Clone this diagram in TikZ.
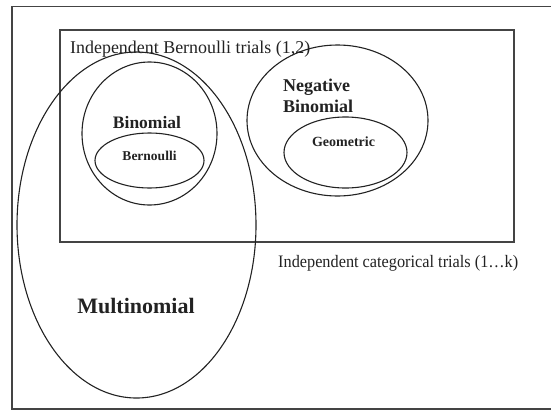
\documentclass[tikz,border=0pt]{standalone}
\usepackage{fontspec}
\setmainfont{Liberation Serif}
\usetikzlibrary{shapes.geometric}
\definecolor{ink}{HTML}{222222}
\definecolor{frame}{HTML}{444444}
\tikzset{
  oval/.style={ellipse, draw=ink, line width=1.1pt, inner sep=0pt, outer sep=0pt},
  lbl/.style={inner sep=0pt, text=ink},
}
\newcommand{\fs}[1]{\fontsize{#1}{#1}\selectfont}
\begin{document}
\begin{tikzpicture}[x=1pt,y=-1pt]
\useasboundingbox (0,0) rectangle (551,410);
% outer frame
\draw[frame, line width=1.6pt] (560,6.5) -- (12,6.5) -- (12,409) -- (560,409);
% inner rectangle
\node[draw=frame, line width=1.2pt, minimum width=454pt, minimum height=212pt, inner sep=0pt, outer sep=0pt, anchor=north west] (bern) at (60,30) {};
% ellipses
\node[oval, minimum width=239pt, minimum height=346pt] (multi) at (136.5,225) {};
\node[oval, minimum width=135pt, minimum height=143pt] (binom) at (149.5,133.5) {};
\node[oval, minimum width=109pt, minimum height=55pt] (bernoulli) at (149.5,160.5) {};
\node[oval, minimum width=181pt, minimum height=151pt] (negbin) at (337.5,120.5) {};
\node[oval, minimum width=123pt, minimum height=71pt] (geom) at (345.5,152.5) {};
% labels
\node[lbl, anchor=base west] (tb) at (70,53) {\resizebox{240pt}{\height}{\fs{18}Independent Bernoulli trials (1,2)}};
\node[lbl, anchor=base] (tbinom) at (147,128) {\fs{17.5}\bfseries Binomial};
\node[lbl, anchor=base] (tbern) at (149.5,160.5) {\fs{13.5}\bfseries Bernoulli};
\node[lbl, anchor=base west] (tneg) at (283,91) {\fs{18}\bfseries Negative};
\node[lbl, anchor=base west] (tneg2) at (283,112) {\fs{18}\bfseries Binomial};
\node[lbl, anchor=base] (tgeom) at (343.5,146.5) {\fs{14}\bfseries Geometric};
\node[lbl, anchor=base] (tmulti) at (136,313) {\fs{22}\bfseries Multinomial};
\node[lbl, anchor=base west] (tcat) at (278,267) {\resizebox{240pt}{\height}{\fs{17.5}Independent categorical trials (1\ldots k)}};
\end{tikzpicture}
\end{document}
